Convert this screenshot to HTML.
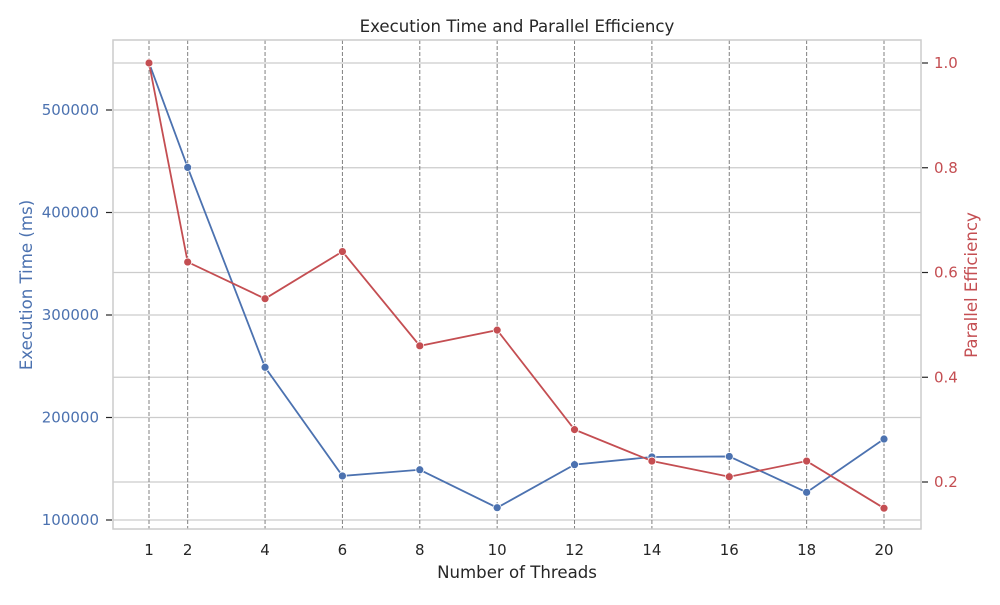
<!DOCTYPE html>
<html><head><meta charset="utf-8"><style>
body{margin:0;background:#fff;}
svg text{font-family:"DejaVu Sans","Liberation Sans",sans-serif;}
</style></head><body>
<svg id="chart" width="1000" height="600" viewBox="0 0 1000 600" xmlns="http://www.w3.org/2000/svg">
<text x="517" y="32" font-size="16.6" text-anchor="middle" fill="#262626">Execution Time and Parallel Efficiency</text>
<g id="grid"></g>
<g id="marks"></g>
<rect x="113" y="40" width="808" height="489" fill="none" stroke="#cccccc" stroke-width="1.5"/>
<text x="517" y="578" font-size="16.6" text-anchor="middle" fill="#262626">Number of Threads</text>
<text transform="translate(32,285) rotate(-90)" font-size="16.6" text-anchor="middle" fill="#4c72b0">Execution Time (ms)</text>
<text transform="translate(977,285) rotate(-90)" font-size="16.6" text-anchor="middle" fill="#c44e52">Parallel Efficiency</text>
</svg>
<script>
const threads=[1,2,4,6,8,10,12,14,16,18,20];
const execTime=[546000,444000,249000,143000,149000,112000,154000,161500,162000,127000,179000];
const efficiency=[1.0,0.62,0.55,0.64,0.46,0.49,0.30,0.24,0.21,0.24,0.15];
const leftTicks=[100000,200000,300000,400000,500000];
const rightTicks=[0.2,0.4,0.6,0.8,1.0];

const X=v=>149+(v-1)*(884-149)/19;
const YL=v=>520-(v-100000)*(410/400000);
const YR=v=>482-(v-0.2)*(419/0.8);
const NS="http://www.w3.org/2000/svg";
function mk(t,a,p){const e=document.createElementNS(NS,t);for(const k in a)e.setAttribute(k,a[k]);p.appendChild(e);return e;}
const grid=document.getElementById('grid'),marks=document.getElementById('marks');

leftTicks.forEach(v=>{
 const l=mk('line',{x1:113,x2:921,y1:YL(v),y2:YL(v),stroke:'#cccccc','stroke-width':1.2},grid);
 
 
 const tm=mk('line',{x1:106,x2:112,y1:YL(v),y2:YL(v),stroke:'#262626','stroke-width':1.2},grid);
 
 
 const t=mk('text',{x:99,y:YL(v)+5,'font-size':15,'text-anchor':'end',fill:'#4c72b0'},grid);t.textContent=v;
 
 
});
rightTicks.forEach(v=>{
 const l=mk('line',{x1:113,x2:921,y1:YR(v),y2:YR(v),stroke:'#cccccc','stroke-width':1.2},grid);
 
 
 const tm=mk('line',{x1:922,x2:928,y1:YR(v),y2:YR(v),stroke:'#262626','stroke-width':1.2},grid);
 
 
 const t=mk('text',{x:934,y:YR(v)+5,'font-size':15,fill:'#c44e52'},grid);t.textContent=v.toFixed(1);
 
 
});
threads.forEach(v=>{
 const l=mk('line',{x1:X(v),x2:X(v),y1:40,y2:529,stroke:'#808080','stroke-width':1,'stroke-dasharray':'4,2'},grid);
 
 
 const t=mk('text',{x:X(v),y:555,'font-size':15,'text-anchor':'middle',fill:'#262626'},grid);t.textContent=v;
 
 
});
function series(vals,Y,color,name){
 const pts=vals.map((v,i)=>X(threads[i])+','+Y(v)).join(' ');
 const pl=mk('polyline',{points:pts,fill:'none',stroke:color,'stroke-width':1.8},marks);
 
 
 vals.forEach((v,i)=>{
  const c=mk('circle',{cx:X(threads[i]),cy:Y(v),r:4,fill:color,stroke:'#fff','stroke-width':0.8},marks);
  
  
 });
}
series(execTime,YL,'#4c72b0','execution-time');
series(efficiency,YR,'#c44e52','efficiency');
</script>
</body></html>
